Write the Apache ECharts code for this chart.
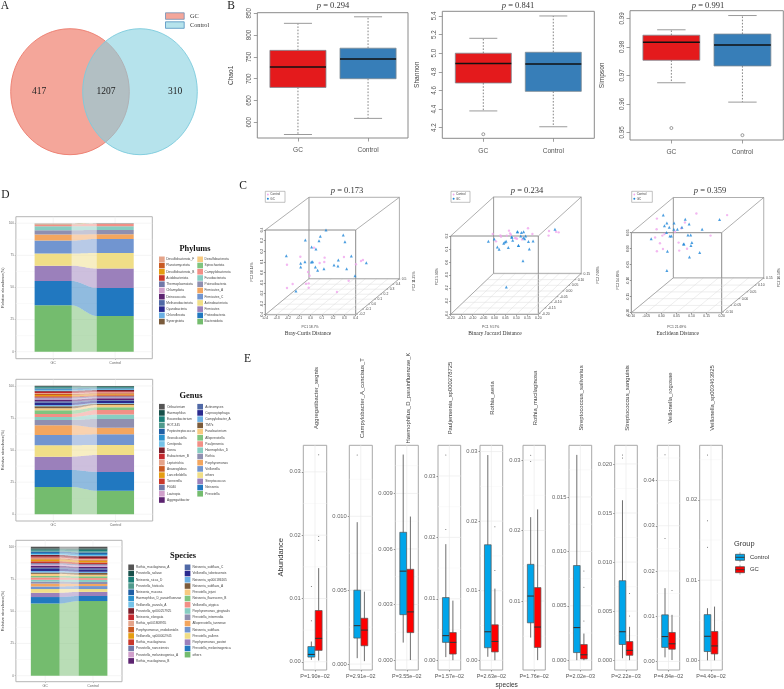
<!DOCTYPE html>
<html><head><meta charset="utf-8">
<style>html,body{margin:0;padding:0;background:#fff}#c{width:784px;height:689px}</style>
<script src="https://cdn.jsdelivr.net/npm/echarts@6/dist/echarts.min.js"></script>
</head><body><div id="c"></div>
<script>
// ---------- DATA ----------
const vennCounts = [417, 1207, 310];
const vennNames = ['GC', 'Control'];
const groupNames = ['GC', 'Control'];

// alpha diversity: [low whisker, Q1, median, Q3, high whisker]
const alphaNames = ['Chao1', 'Shannon', 'Simpson'];
const alphaP = ['0.294', '0.841', '0.991'];
const alphaGC = [[572, 680, 727, 765, 827], [4.38, 4.68, 4.89, 5.0, 5.16], [0.9674, 0.9753, 0.9816, 0.9841, 0.986]];
const alphaControl = [[609, 700, 745, 770, 842], [4.21, 4.59, 4.885, 5.01, 5.4], [0.9606, 0.9733, 0.9807, 0.9845, 0.991]];
const alphaOutGC = [[], [4.13], [0.9515]];
const alphaOutControl = [[], [], [0.949]];
const alphaTicks = [[600, 650, 700, 750, 800, 850], [4.2, 4.4, 4.6, 4.8, 5.0, 5.2, 5.4], [0.95, 0.96, 0.97, 0.98, 0.99]];
const alphaDecimals = [0, 1, 2];

// stacked composition, bottom to top
const phylumNames = ['Bacteroidota','Proteobacteria','Firmicutes','Actinobacteriota','Firmicutes_C','Firmicutes_A','Patescibacteria','Fusobacteriota','Campylobacterota','Spirochaetota','Desulfobacterota','Synergistota','Chloroflexota','Cyanobacteria','Methanobacteriota','Deinococcota','Chlamydiota','Thermoplasmatota','Acidobacteriota','Desulfobacterota_B','Planctomycetota','Desulfobacterota_F'];
const phylumGC = [36.1,19,11.9,9.4,10.1,4.7,3.3,3.2,1.5,0.3,0.15,0.05,0.03,0.02,0.02,0.02,0.02,0.02,0.02,0.02,0.02,0.02];
const phylumControl = [27.8,21.8,15.1,12.2,10.9,3.6,3.4,2.9,1.8,0.2,0.1,0.03,0.02,0.02,0.02,0.02,0.02,0.02,0.02,0.02,0.01,0.01];
const genusNames = ['Prevotella','Neisseria','Streptococcus','others','Veillonella','Porphyromonas','Rothia','Haemophilus_D','Pauljensenia','Alloprevotella','Fusobacterium','TM7x','Campylobacter_A','Capnocytophaga','Actinomyces','Aggregatibacter','Lautropia','F0040','Tannerella','Lancefieldella','Anaeroglobus','Leptotrichia','Eubacterium_B','Dorea','Centipeda','Granulicatella','Peptostreptococcus','HOT-345','Eoconebacterium','Haemophilus','Oribacterium'];
const genusGC = [21.3,13.2,10.4,8.9,8,7.6,4.1,2.3,2.4,2.8,1.6,1.6,1,1.8,1,1.4,0.8,0.9,0.8,1,0.8,0.8,0.9,0.9,0.5,0.7,0.6,0.5,0.5,0.7,0.3];
const genusControl = [18.2,14.8,13.2,7.8,8.3,5.2,6.8,3.4,3.6,2.1,1.8,1,0.6,1.6,0.7,1.3,0.7,0.8,0.8,0.9,0.8,0.7,0.8,0.9,0.4,0.6,0.5,0.4,0.4,0.6,0.3];
const speciesNames = ['others','Prevotella_melaninogenica','Porphyromonas_pasteri','Prevotella_pallens','Neisseria_subflava','Alloprevotella_tannerae','Prevotella_intermedia','Porphyromonas_gingivalis','Veillonella_atypica','Neisseria_flavescens_B','Prevotella_jejuni','Neisseria_subflava_A','Neisseria_sp000186165','Veillonella_tobetsuensis','Neisseria_subflava_C','Rothia_mucilaginosa_B','Prevotella_melaninogenica_A','Prevotella_nanceiensis','Rothia_mucilaginosa','Veillonella_sp000002945','Porphyromonas_endodontalis','Rothia_sp001808955','Neisseria_elongata','Prevotella_sp000257925','Veillonella_parvula_A','Haemophilus_D_parainfluenzae','Neisseria_mucosa','Prevotella_histicola','Neisseria_sicca_D','Prevotella_salivae','Rothia_mucilaginosa_A'];
const speciesGC = [56,5,3.3,2.9,2,2.2,1.6,1.4,1.8,1.2,1.6,1,1.2,1.6,1,1.4,1,1.1,1.4,1.5,0.8,0.6,0.7,1.4,0.6,0.9,1.1,0.6,0.9,0.9,1.3];
const speciesControl = [57.9,3.9,3.2,2.2,2.3,1.6,1.6,1.6,1.4,1.4,1.2,1.4,0.9,1.8,1,1,1.1,1,1.3,1.5,0.7,0.6,0.6,1.5,0.6,1.1,1.2,0.8,1.3,1,1.3];
const stackPalette = ['#74BC6E','#2178C0','#9B80BB','#F0DE87','#7195D0','#F3A65F','#8F8FB0','#87CDC2','#F28F86','#7FC47F','#F7CA80','#7A5B3C','#6CB1E4','#2A2A8E','#5069A6','#5C2370','#D09FCB','#7279A8','#C9372A','#E59C10','#C95A22','#E5A48A','#C4282E','#7A1E2A','#74C2E8','#2A92CE','#1F5FA5','#4F9A8C','#1B7F78','#17504A','#555555'];
const stackTicks = [0, 25, 50, 75, 100];

// PCoA, projected on the front face of each cube
const pcoaP = ['0.173', '0.234', '0.359'];
const pcoaTitles = ['Bray-Curtis Distance', 'Binary Jaccard Distance', 'Euclidean Distance'];
const pcoaAxisNames = [['PC1 18.7%','PC2 11.25%','PC3 10.14%'],['PC1 9.57%','PC2 7.00%','PC3 5.91%'],['PC1 21.69%','PC2 10.58%','PC3 14.89%']];
const pcoaXTicks = [[-0.4,-0.3,-0.2,-0.1,0,0.1,0.2,0.3,0.4],[-0.2,-0.15,-0.1,-0.05,0,0.05,0.1,0.15,0.2],[-0.1,-0.05,0,0.05,0.1,0.15,0.2]];
const pcoaYTicks = [[-0.4,-0.3,-0.2,-0.1,0,0.1,0.2,0.3,0.4],[-0.4,-0.3,-0.2,-0.1,0,0.1,0.2],[-0.2,-0.15,-0.1,-0.05,0,0.05]];
const pcoaDepthTicks = [['-0.2','-0.1','0.0','0.1','0.2','0.3','0.4','0.5'],['-0.20','-0.15','-0.10','-0.05','0.00','0.05','0.10','0.15'],['-0.10','-0.05','0.00','0.05','0.10','0.15']];
const pcoaDec = [[1,1],[2,1],[2,2]];
const pcoaGC = [
 [[0.137,0.4],[-0.046,0.306],[0.087,0.34],[0.075,0.299],[0.29,0.353],[0.305,0.29],[0.01,0.239],[0.048,0.22],[-0.214,0.157],[0.361,0.154],[-0.087,0.085],[-0.049,0.101],[0.007,0.098],[0.019,0.101],[0.246,0.116],[-0.087,0.05],[0.043,0.05],[0.063,0.019],[0.119,0.035],[0.208,0.069],[0.243,0.06],[0.32,0.035],[0.494,0.091],[0.394,-0.032],[-0.129,-0.176]],
 [[-0.028,0.159],[-0.001,0.177],[0.013,0.116],[0.021,0.098],[0.042,0.144],[0.048,0.154],[0.053,0.159],[0.063,0.111],[0.08,0.19],[0.106,0.233],[0.11,0.128],[0.054,-0.191],[0.104,0.233],[0.123,0.226],[0.133,0.233],[0.12,0.2],[0.078,0.192],[0.083,0.167],[0.132,0.187],[0.142,0.2],[0.138,0.179],[0.176,0.162],[0.155,0.157],[0.109,0.128],[0.159,0.1],[0.13,0.011],[0.276,0.251]],
 [[0.006,0.105],[0.018,0.08],[0.01,0.072],[0.042,0.08],[0.026,0.067],[0.041,0.061],[0.053,0.061],[0.068,0.067],[0.079,0.092],[0.092,0.077],[0.135,0.061],[0.193,0.091],[0.017,0.051],[0.033,0.04],[0.028,0.04],[0.088,0.043],[0.097,0.043],[-0.034,0.031],[0.073,0.015],[0.075,0.015],[0.101,0.019],[0.098,0.01],[0.02,-0.008],[0.127,-0.012],[0.093,-0.026],[0.018,-0.068]]
];
const pcoaControl = [
 [[0.031,0.233],[-0.09,0.148],[0.125,0.139],[0.081,0.088],[0.122,0.098],[0.296,0.145],[-0.208,0.072],[-0.022,0.003],[-0.008,-0.032],[0.447,0.107],[0.464,0.116],[0.402,0.076],[-0.158,-0.11],[-0.208,-0.148],[-0.016,-0.104],[-0.04,-0.107],[-0.016,-0.145],[0.338,-0.079],[0.234,-0.186]],
 [[-0.008,0.215],[0.007,0.159],[0.027,0.205],[0.03,0.195],[0.056,0.203],[0.066,0.241],[0.075,0.21],[0.094,0.185],[0.103,0.179],[0.153,0.259],[0.173,0.215],[0.071,0.22],[0.098,0.182],[0.126,0.174],[0.249,0.238],[0.247,0.203],[0.281,0.233],[0.293,0.228]],
 [[-0.015,0.094],[0.078,0.082],[0.116,0.11],[0.218,0.105],[-0.016,0.061],[-0.021,0.035],[0.003,0.041],[0.01,0.046],[0.045,0.053],[0.066,0.064],[0.163,0.041],[-0.005,0.017],[0.005,-0.001],[-0.015,-0.008],[0.057,0.019],[0.059,-0.006],[0.085,0]]
];

// differential species: [low whisker, Q1, median, Q3, high whisker]
const markerNames = ['Aggregatibacter_segnis','Campylobacter_A_concisus_T','Haemophilus_D_parainfluenzae_K','Pauljensenia_sp000278725','Rothia_aeria','Rothia_mucilaginosa','Streptococcus_salivarius','Streptococcus_sanguinis','Veillonella_rogosae','Veillonella_sp003463925'];
const markerP = ['P=1.90e\u221202','P=2.91e\u221202','P=3.55e\u221202','P=1.57e\u221202','P=2.63e\u221202','P=1.76e\u221202','P=2.02e\u221203','P=2.22e\u221203','P=4.84e\u221202','P=4.40e\u221202'];
const markerControl = [[0.0003,0.00074,0.00116,0.0024,0.0032],[0.0004,0.00176,0.0026,0.005,0.0096],[0.00094,0.00245,0.0048,0.0069,0.0111],[0.0005,0.0029,0.004,0.0102,0.0189],[0.0005,0.0018,0.0041,0.0166,0.0295],[0.0048,0.0069,0.0107,0.0152,0.0219],[0,0.0007,0.003,0.0087,0.01887],[0.0002,0.0016,0.0029,0.0081,0.0163],[0.0009,0.0031,0.0055,0.0103,0.0162],[0,0.0011,0.003,0.0057,0.0065]];
const markerGC = [[0.0002,0.0018,0.0037,0.0081,0.0148],[0.0002,0.00124,0.0023,0.0031,0.0049],[0,0.00148,0.0026,0.0049,0.00775],[0,0.001,0.0029,0.0045,0.0097],[0,0.0012,0.0027,0.0051,0.0103],[0.0016,0.0034,0.0063,0.0119,0.023],[0,0.00012,0.0005,0.00144,0.00245],[0,0.0005,0.001,0.0019,0.0034],[0.0003,0.0027,0.0039,0.0064,0.0103],[0,0.0008,0.0018,0.0036,0.0067]];
const markerOutControl = [[0.0065,0.0119],[0.01415],[],[0.0334,0.0213],[],[0.0307,0.0298],[],[0.0209,0.0206],[0.0457,0.0272],[0.0256,0.0174,0.0141]];
const markerOutGC = [[0.0192,0.0198,0.0327],[],[],[],[0.0192,0.0129],[],[0.0036,0.0067,0.0082],[0.0045,0.0068],[0.0157],[]];
const markerTicks = [[0,0.01,0.02,0.03],[0,0.005,0.01],[0,0.003,0.006,0.009],[0,0.01,0.02,0.03],[0,0.01,0.02,0.03],[0.01,0.02,0.03],[0,0.005,0.01,0.015],[0,0.005,0.01,0.015,0.02],[0,0.01,0.02,0.03,0.04],[0,0.01,0.02]];
const markerDec = [2,3,3,2,2,2,3,3,2,2];

// ---------- LAYOUT AND STYLE ----------
const SANS = '"Liberation Sans", Arial, sans-serif', SERIF = '"Liberation Serif", "Times New Roman", serif';
const grids = [], xAxes = [], yAxes = [], series = [], gfx = [];
function T(text, x, y, o) {
  o = o || {};
  gfx.push({type:'text', x, y, rotation:o.rot||0, z:o.z||20, silent:true, style:{text, fill:o.color||'#333', fontFamily:o.font||SANS, fontSize:o.size||6, fontWeight:o.weight||'normal', align:o.align||'center', verticalAlign:'middle', rich:o.rich}});
}
function R(x, y, w, h, fill, stroke, lw) {
  gfx.push({type:'rect', z:19, silent:true, shape:{x,y,width:w,height:h}, style:{fill, stroke:stroke||null, lineWidth:lw||0}});
}
function PTitle(v, x, y, size) {
  T('{i|p} = ' + v, x, y, {font:SERIF, size, rich:{i:{fontStyle:'italic', fontFamily:SERIF, fontSize:size, fill:'#333'}}});
}
function addGrid(r, xr, yr, a) {
  const gi = grids.length;
  grids.push({left:r.l, top:r.t, width:r.r-r.l, height:r.b-r.t, show:true, backgroundColor:a.bg||'#fff', borderColor:a.border||'#888', borderWidth:a.bw||1, containLabel:false});
  const mk = (range, ax, ticks, extra) => Object.assign({
    gridIndex:gi, type:'value', min:range[0], max:range[1], splitLine:{show:false},
    axisLine:{show:false, onZero:false},
    axisTick:{show:true, customValues:ticks, length:ax.tl||2, lineStyle:{color:ax.tc||'#888', width:0.8}},
    axisLabel:{show:ticks.length>0, customValues:ticks, fontFamily:SANS, fontSize:ax.fs||6, color:ax.lc||'#555', margin:ax.m||3, rotate:ax.rot||0, formatter:ax.fmt, hideOverlap:false, showMinLabel:true, showMaxLabel:true}
  }, extra||{});
  xAxes.push(mk(xr, a.x, a.x.ticks));
  const yExtra = a.y.name ? {name:a.y.name, nameLocation:'middle', nameRotate:90, nameGap:a.y.gap, nameTextStyle:{fontFamily:SANS, fontSize:a.y.nfs||6.6, color:a.y.nc||'#444'}} : {};
  yAxes.push(mk(yr, a.y, a.y.ticks, yExtra));
  return gi;
}
function draw(gi, rows, fn, z) {
  series.push({type:'custom', coordinateSystem:'cartesian2d', xAxisIndex:gi, yAxisIndex:gi, silent:true, clip:false, z:z||2,
    data:rows.map((_, i)=>[i, 0]),
    renderItem:(p, api)=>({type:'group', children:fn(rows[p.dataIndex], p.dataIndex, c=>api.coord(c))})});
}
const L = (a, b, stroke, lw, dash) => ({type:'line', shape:{x1:a[0],y1:a[1],x2:b[0],y2:b[1]}, style:{stroke, lineWidth:lw, lineDash:dash||null}});
function gridLines(gi, xs, ys, xr, yr, color, lw) {
  const rows = xs.map(v=>[0,v]).concat(ys.map(v=>[1,v]));
  draw(gi, rows, (r,_,c)=>[ r[0]===0 ? L(c([r[1],yr[0]]),c([r[1],yr[1]]),color,lw) : L(c([xr[0],r[1]]),c([xr[1],r[1]]),color,lw) ], 1);
}

// ---------- A: VENN ----------
const vennShapes = [{cx:70,cy:91.7,rx:59.3,ry:63,fill:'rgba(237,107,87,0.6)',stroke:'#EC7A6C'},{cx:140,cy:91.7,rx:57.3,ry:63,fill:'rgba(133,208,223,0.6)',stroke:'#7CCBDD'}];
vennShapes.forEach(s=>gfx.push({type:'ellipse', z:10, silent:true, shape:{cx:s.cx,cy:s.cy,rx:s.rx,ry:s.ry}, style:{fill:s.fill, stroke:s.stroke, lineWidth:0.9}}));
[39,106,175].forEach((x,i)=>T(String(vennCounts[i]), x, 91, {font:SERIF, size:9.5, color:'#222'}));
R(165.5,12.8,18.7,6.5,'#F4A69A','#6E8FB5',0.8); R(165.5,21.8,18.7,6.5,'#B6E3EC','#4F8FBF',0.8);
T(vennNames[0],190,16.2,{font:SERIF,size:6.3,align:'left'}); T(vennNames[1],190,25.2,{font:SERIF,size:6.3,align:'left'});

// ---------- B: ALPHA BOXPLOTS ----------
const alphaRects = [{l:257.3,r:408,t:12.7,b:138},{l:442.3,r:594.3,t:11.3,b:138.3},{l:630,r:783.3,t:10.7,b:140}];
const alphaYR = [[564,851.4],[4.086,5.45],[0.9473,0.9927]];
const alphaXR = [[0.42,2.57],[0.414,2.586],[0.418,2.575]];
const alphaTX = [333,518,708], alphaGap = [23,22,24.5];
const boxCol = ['#E41A1C','#377EB8'];
alphaNames.forEach((nm,k)=>{
  const gi = addGrid(alphaRects[k], alphaXR[k], alphaYR[k], {border:'#8a8a8a',
    x:{ticks:[1,2], tl:3.5, fs:6.6, m:9, fmt:v=>groupNames[v-1]},
    y:{ticks:alphaTicks[k], tl:3.5, fs:6.3, m:5, rot:90, fmt:v=>v.toFixed(alphaDecimals[k]), name:nm, gap:alphaGap[k]}});
  const rows = [alphaGC[k], alphaControl[k]];
  draw(gi, rows, (s,i,c)=>{
    const x=i+1, h=0.4, cap=0.2;
    return [
      L(c([x,s[3]]),c([x,s[4]]),'#666',0.8,[1.6,1.6]), L(c([x,s[1]]),c([x,s[0]]),'#666',0.8,[1.6,1.6]),
      L(c([x-cap,s[4]]),c([x+cap,s[4]]),'#9a9a9a',1), L(c([x-cap,s[0]]),c([x+cap,s[0]]),'#9a9a9a',1),
      {type:'polygon', shape:{points:[c([x-h,s[1]]),c([x+h,s[1]]),c([x+h,s[3]]),c([x-h,s[3]])]}, style:{fill:boxCol[i], stroke:'#7d8a93', lineWidth:0.8}},
      L(c([x-h,s[2]]),c([x+h,s[2]]),'#111',1.5)
    ];
  });
  const outs = [alphaOutGC[k].map(v=>[1,v]), alphaOutControl[k].map(v=>[2,v])].flat();
  series.push({type:'scatter', xAxisIndex:gi, yAxisIndex:gi, data:outs, symbol:'circle', symbolSize:3, itemStyle:{color:'#fff', borderColor:'#555', borderWidth:0.7}, silent:true, z:3});
  PTitle(alphaP[k], alphaTX[k], 5.5, 8.5);
});

// ---------- D: STACKED BARS ----------
function stackPanel(r, xr, yr, half, names, gc, ctrl, title, lg, yLabelX) {
  const gi = addGrid(r, xr, yr, {border:'#b5b5b5',
    x:{ticks:[1,2], tl:1.2, fs:3.6, m:2.2, lc:'#666', tc:'#aaa', fmt:v=>groupNames[v-1]},
    y:{ticks:stackTicks, tl:1.2, fs:3, m:2, lc:'#666', tc:'#aaa', fmt:v=>String(v), name:'Relative abundance(%)', gap:r.l-yLabelX, nfs:3.9, nc:'#444'}});
  gridLines(gi,[1,2],stackTicks,xr,yr,'#eeeeee',0.6);
  gridLines(gi,[],stackTicks.slice(0,-1).map(v=>v+12.5),xr,yr,'#f5f5f5',0.5);
  let a=0,b=0; const cum=names.map((_,i)=>{const o=[a,a+gc[i],b,b+ctrl[i]];a+=gc[i];b+=ctrl[i];return o;});
  draw(gi, cum, (s,i,c)=>{
    const col=stackPalette[i], x1=1+half, x2=2-half, top=[], bot=[];
    for(let k=0;k<=24;k++){const t=k/24,e=t*t*(3-2*t),x=x1+(x2-x1)*t;
      top.push(c([x,s[1]+(s[3]-s[1])*e])); bot.unshift(c([x,s[0]+(s[2]-s[0])*e]));}
    const rect=(x,lo,hi)=>({type:'polygon',shape:{points:[c([x-half,lo]),c([x+half,lo]),c([x+half,hi]),c([x-half,hi])]},style:{fill:col}});
    return [ {type:'polygon',shape:{points:top.concat(bot)},style:{fill:col,opacity:0.5}}, rect(1,s[0],s[1]), rect(2,s[2],s[3]) ];
  });
  T(title, lg.tx, lg.ty, {font:SERIF, size:8.4, weight:'bold', color:'#111'});
  const n=names.length, n2=Math.floor(n/2), n1=n-n2;
  for(let i=0;i<n1;i++){const idx=n-1-i,y=lg.y0+i*lg.dy; R(lg.x1,y-2.8,5.7,5.6,stackPalette[idx]); T(names[idx],lg.x1+lg.tg,y,{size:3.2,align:'left',color:'#444'});}
  for(let i=0;i<n2;i++){const idx=n2-1-i,y=lg.y0+i*lg.dy; R(lg.x2,y-2.8,5.7,5.6,stackPalette[idx]); T(names[idx],lg.x2+lg.tg,y,{size:3.2,align:'left',color:'#444'});}
}
stackPanel({l:15.7,r:152.3,t:216.7,b:358.7},[0.398,2.6],[-5.45,105.1],0.3,phylumNames,phylumGC,phylumControl,'Phylums',{tx:195,ty:249,x1:159,x2:197.3,tg:7.3,y0:259.3,dy:6.23},8.5);
stackPanel({l:15.7,r:152.7,t:379.3,b:521},[0.398,2.6],[-5.3,105.2],0.3,genusNames,genusGC,genusControl,'Genus',{tx:191,ty:396,x1:159,x2:197.3,tg:8,y0:406.7,dy:6.22},8.5);
stackPanel({l:15.3,r:122,t:540.3,b:681.7},[0.385,2.608],[-4.65,105],0.302,speciesNames,speciesGC,speciesControl,'Species',{tx:183,ty:556.3,x1:128.3,x2:184.7,tg:7.7,y0:567.3,dy:6.24},8.5);

// ---------- C: PCoA CUBES ----------
const pcoaRects = [{l:265.3,r:355.7,t:230,b:314.7},{l:450.7,r:538.3,t:236,b:314.3},{l:631.3,r:721.7,t:232.7,b:312.7}];
const pcoaXR = [[-0.4,0.4],[-0.2,0.2],[-0.1,0.2]], pcoaYR = [[-0.4,0.4],[-0.4,0.2],[-0.2,0.05]];
const pcoaOff = [{ox:0.3867,ob:0.34,ot:0.309},{ox:0.196,ob:0.314,ot:0.299},{ox:0.1395,ob:0.109,ot:0.11}];
const pcoaTitleX = [347,527,710], pcoaNameX = [310,490.7,676.7], pcoaFootX = [308,495,677.7];
const pcoaPC2 = [[414,281],[597.7,275],[779,277.7]], pcoaPC3 = [[251.7,272],[436.7,276.7],[618.3,280]];
const pcoaLegend = [[265.3,285],[451,470],[631.7,652.3]];
pcoaTitles.forEach((tt,k)=>{
  const xr=pcoaXR[k], yr=pcoaYR[k], f=pcoaOff[k], r=pcoaRects[k];
  const gi=addGrid(r,xr,yr,{border:'#8c8c8c', bg:'transparent',
    x:{ticks:pcoaXTicks[k], tl:1.5, fs:3.4, m:2.3, lc:'#444', tc:'#777', fmt:v=>v.toFixed(pcoaDec[k][0])},
    y:{ticks:pcoaYTicks[k], tl:1.5, fs:3.4, m:2, lc:'#444', tc:'#777', rot:90, fmt:v=>v.toFixed(pcoaDec[k][1])}});
  const [x0,x1]=xr,[y0,y1]=yr, gc='#dcdcdc';
  const nD=pcoaDepthTicks[k].length;
  draw(gi,[0],(_,__,c)=>{
    const out=[];
    pcoaXTicks[k].forEach(v=>out.push(L(c([v,y0]),c([v+f.ox,y0+f.ob]),gc,0.5)));
    for(let i=0;i<nD;i++){const t=i/(nD-1)*0.97+0.015; out.push(L(c([x0+t*f.ox,y0+t*f.ob]),c([x1+t*f.ox,y0+t*f.ob]),gc,0.5));}
    const bTL=[x0+f.ox,y1+f.ot],bTR=[x1+f.ox,y1+f.ot],bBL=[x0+f.ox,y0+f.ob],bBR=[x1+f.ox,y0+f.ob],ec='#8c8c8c';
    out.push(L(c(bTL),c(bTR),ec,0.7),L(c(bTR),c(bBR),ec,0.7),L(c(bBL),c(bBR),ec,0.7),L(c(bTL),c(bBL),ec,0.9));
    out.push(L(c([x0,y1]),c(bTL),ec,0.7),L(c([x1,y1]),c(bTR),ec,0.7),L(c([x1,y0]),c(bBR),ec,0.7),L(c([x0,y0]),c(bBL),ec,0.7));
    return out;
  },1);
  draw(gi,pcoaDepthTicks[k],(lab,i,c)=>{
    const t=i/(nD-1)*0.97+0.015,p=c([x1+t*f.ox,y0+t*f.ob]);
    return [{type:'text',x:p[0]+3,y:p[1],style:{text:lab,fontSize:3.4,fontFamily:SANS,fill:'#444',align:'left',verticalAlign:'middle'}},L(p,[p[0]+1.6,p[1]],'#777',0.6)];
  },4);
  series.push({type:'scatter',xAxisIndex:gi,yAxisIndex:gi,data:pcoaControl[k],symbol:'circle',symbolSize:2.4,itemStyle:{color:'#F0A6EE'},clip:false,silent:true,z:5});
  series.push({type:'scatter',xAxisIndex:gi,yAxisIndex:gi,data:pcoaGC[k],symbol:'triangle',symbolSize:3,itemStyle:{color:'#1E86D8'},clip:false,silent:true,z:6});
  PTitle(pcoaP[k],pcoaTitleX[k],191,8.5);
  T(pcoaAxisNames[k][0],pcoaNameX[k],326.7,{size:3.4,color:'#444'});
  T(pcoaAxisNames[k][1],pcoaPC2[k][0],pcoaPC2[k][1],{size:3.4,color:'#444',rot:Math.PI/2});
  T(pcoaAxisNames[k][2],pcoaPC3[k][0],pcoaPC3[k][1],{size:3.4,color:'#444',rot:Math.PI/2});
  T(tt,pcoaFootX[k],334,{font:SERIF,size:5.5,color:'#333'});
  const lx=pcoaLegend[k];
  R(lx[0],191.3,lx[1]-lx[0],11,'#fff','#999',0.6);
  gfx.push({type:'circle',z:20,silent:true,shape:{cx:lx[0]+2.6,cy:194.5,r:0.9},style:{fill:'#F0A6EE'}});
  gfx.push({type:'circle',z:20,silent:true,shape:{cx:lx[0]+2.6,cy:198.8,r:1},style:{fill:'#1E86D8'}});
  T('Control',lx[0]+5,194.5,{size:3,align:'left',color:'#444'});
  T('GC',lx[0]+5,198.8,{size:3,align:'left',color:'#444'});
});

// ---------- E: MARKER SPECIES ----------
const markerRects = [[303.3,326.7],[349.3,372.3],[395.3,418.3],[438,460.7],[480,502.7],[523,545.3],[569,591.7],[614.7,637.3],[657.3,679.7],[699.7,722.3]];
const markerYR = [[-0.0013,0.0342],[-0.0004,0.0148],[-0.00054,0.0116],[-0.0016,0.035],[-0.0014,0.0309],[0.0002,0.0321],[-0.0009,0.01975],[-0.001,0.0219],[-0.0019,0.0478],[-0.0012,0.0268]];
const groupCol = ['#00A5EA','#FF0000'];
markerNames.forEach((nm,k)=>{
  const mr=markerRects[k], yr=markerYR[k], xr=[0.4,1.6], ticks=markerTicks[k];
  const gi=addGrid({l:mr[0],r:mr[1],t:445.3,b:670},xr,yr,{border:'#a8a8a8',
    x:{ticks:[1], tl:1.5, fs:5.4, m:3.6, lc:'#555', tc:'#777', fmt:()=>markerP[k]},
    y:{ticks, tl:1.5, fs:5.8, m:2.5, lc:'#666', tc:'#777', fmt:v=>v.toFixed(markerDec[k])}});
  const step=ticks[1]-ticks[0], minors=[];
  for(let v=ticks[0]-step/2;v<yr[1];v+=step) if(v>yr[0]) minors.push(v);
  gridLines(gi,[],minors,xr,yr,'#f4f4f4',0.5);
  gridLines(gi,[1],ticks,xr,yr,'#ebebeb',0.7);
  draw(gi,[markerControl[k],markerGC[k]],(s,i,c)=>{
    const x=i===0?0.8125:1.1875,h=0.1775;
    return [ L(c([x,s[0]]),c([x,s[4]]),'#4a4a4a',0.8),
      {type:'polygon',shape:{points:[c([x-h,s[1]]),c([x+h,s[1]]),c([x+h,s[3]]),c([x-h,s[3]])]},style:{fill:groupCol[i],stroke:'#555',lineWidth:0.7}},
      L(c([x-h,s[2]]),c([x+h,s[2]]),'#333',1.1) ];
  });
  const pts=markerOutControl[k].map(v=>[0.8125,v]).concat(markerOutGC[k].map(v=>[1.1875,v]));
  series.push({type:'scatter',xAxisIndex:gi,yAxisIndex:gi,data:pts,symbol:'circle',symbolSize:1,itemStyle:{color:'#333'},silent:true,z:3});
  T(nm,(mr[0]+mr[1])/2+1.5,398,{size:5.9,color:'#444',rot:Math.PI/2});
});
T('Abundance',281,557.3,{size:7.6,color:'#333',rot:Math.PI/2});
T('species',506.7,685,{size:6.6,color:'#333'});
T('Group',734,543.7,{size:7.4,align:'left',color:'#333'});
['Control','GC'].forEach((g,i)=>{
  const y=[557.3,569.7][i];
  gfx.push({type:'line',z:19,silent:true,shape:{x1:740,y1:y-5,x2:740,y2:y+5},style:{stroke:'#888',lineWidth:0.7}});
  R(735.5,y-3,9,6,groupCol[i],'#444',0.7);
  gfx.push({type:'line',z:20,silent:true,shape:{x1:735.5,y1:y,x2:744.5,y2:y},style:{stroke:'#333',lineWidth:0.9}});
  T(g,750,y,{size:5.9,align:'left',color:'#333'});
});

// panel letters
[['A',5,5.5],['B',231,5.5],['D',5.5,195],['C',243,186],['E',247.5,359]].forEach(p=>T(p[0],p[1],p[2],{font:SERIF,size:11.5,color:'#222'}));

const chart = echarts.init(document.getElementById('c'), null, {renderer:'canvas'});
chart.setOption({animation:false, backgroundColor:'#fff', tooltip:{show:false}, grid:grids, xAxis:xAxes, yAxis:yAxes, series, graphic:{elements:gfx}});
</script></body></html>
